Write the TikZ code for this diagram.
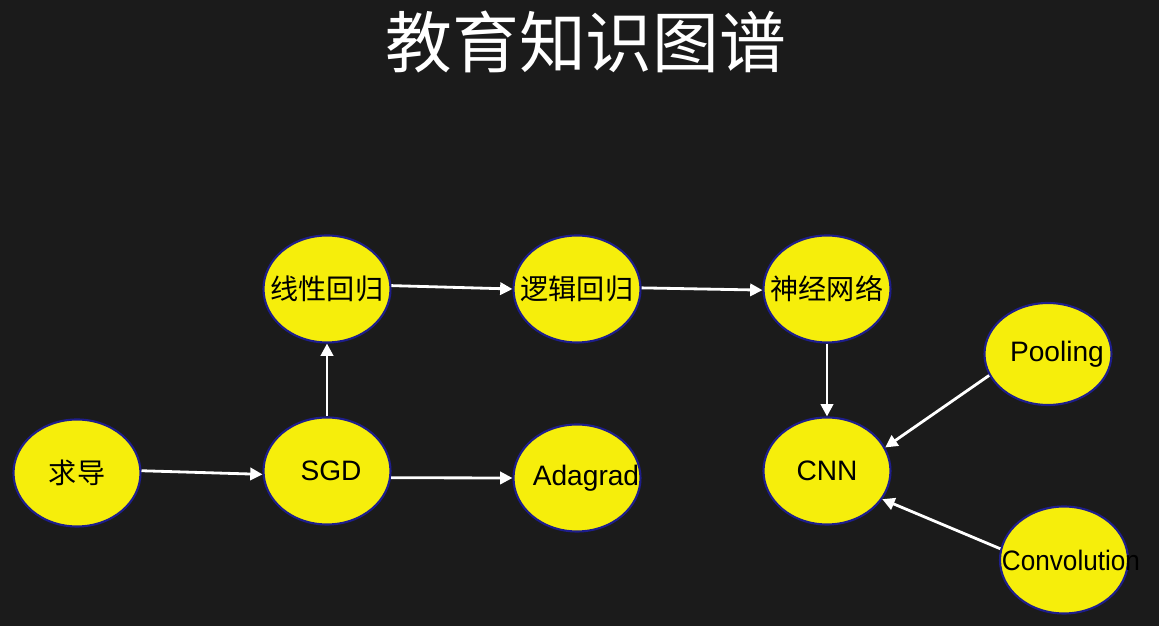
\documentclass[tikz,border=0pt]{standalone}
\usepackage{fontspec}
\setmainfont{Liberation Sans}
\newfontfamily\cjk{Noto Sans CJK SC}
\usetikzlibrary{shapes.geometric,arrows.meta}
\definecolor{bgdark}{HTML}{1B1B1B}
\definecolor{nodeyellow}{HTML}{F6EE0B}
\definecolor{nodeedge}{HTML}{1E1E8C}
% text that may run over the ellipse, shifted right by #1
\newcommand{\conceptlabel}[2][0pt]{\makebox[0pt]{\kern#1\relax#2\kern-#1}}
\begin{document}
\begin{tikzpicture}[node distance=2.5cm, every node/.style={font=\fontsize{8pt}{9pt}\selectfont}]
    \tikzstyle{concept} = [ellipse, draw=nodeedge, line width=0.6pt, fill=nodeyellow, text=black, inner sep=0pt, minimum width=1.27cm, minimum height=1.07cm]
    \tikzstyle{link} = [-{Triangle[length=3.5pt, width=3.5pt]}, draw=white, line width=0.8pt]
    \fill[bgdark] (0,0) rectangle (11.59,6.26);
    \useasboundingbox (0,0) rectangle (11.59,6.26);

    \node (title) [text=white, font=\cjk\fontsize{19pt}{22pt}\selectfont] at (5.86,5.84) {教育知识图谱};

    \node (qiudao) [concept] at (0.77,1.53) {\conceptlabel{\cjk 求导}};
    \node (sgd) [concept, right of=qiudao, yshift=0.02cm] {\conceptlabel[0.04cm]{SGD}};
    \node (adagrad) [concept, right of=sgd, yshift=-0.07cm] {\conceptlabel[0.09cm]{Adagrad}};
    \node (xianxing) [concept, above of=sgd, node distance=1.82cm] {\conceptlabel{\cjk 线性回归}};
    \node (luoji) [concept, right of=xianxing] {\conceptlabel{\cjk 逻辑回归}};
    \node (shenjing) [concept, right of=luoji] {\conceptlabel{\cjk 神经网络}};
    \node (cnn) [concept, below of=shenjing, node distance=1.82cm] {\conceptlabel{CNN}};
    % the two inputs of CNN on the right
    \node (pooling) [concept, minimum height=1.02cm] at (10.48,2.72) {\conceptlabel[0.09cm]{Pooling}};
    \node (convolution) [concept, minimum width=1.28cm] at (10.64,0.66) {\conceptlabel[0.07cm]{\scalebox{0.93}[1]{Convolution}}};

    \draw [link] (qiudao.2) -- (sgd.183);
    \draw [link] (sgd.north) -- (xianxing.south);
    \draw [link] (sgd.-6) -- (adagrad.west);
    \draw [link] (xianxing.3) -- (luoji.west);
    \draw [link] (luoji.1) -- (shenjing.181);
    \draw [link] (shenjing.south) -- (cnn.north);
    \draw [link] (pooling.200) -- (cnn.22);
    \draw [link] (convolution.170) -- (cnn.333);

\end{tikzpicture}
\end{document}
